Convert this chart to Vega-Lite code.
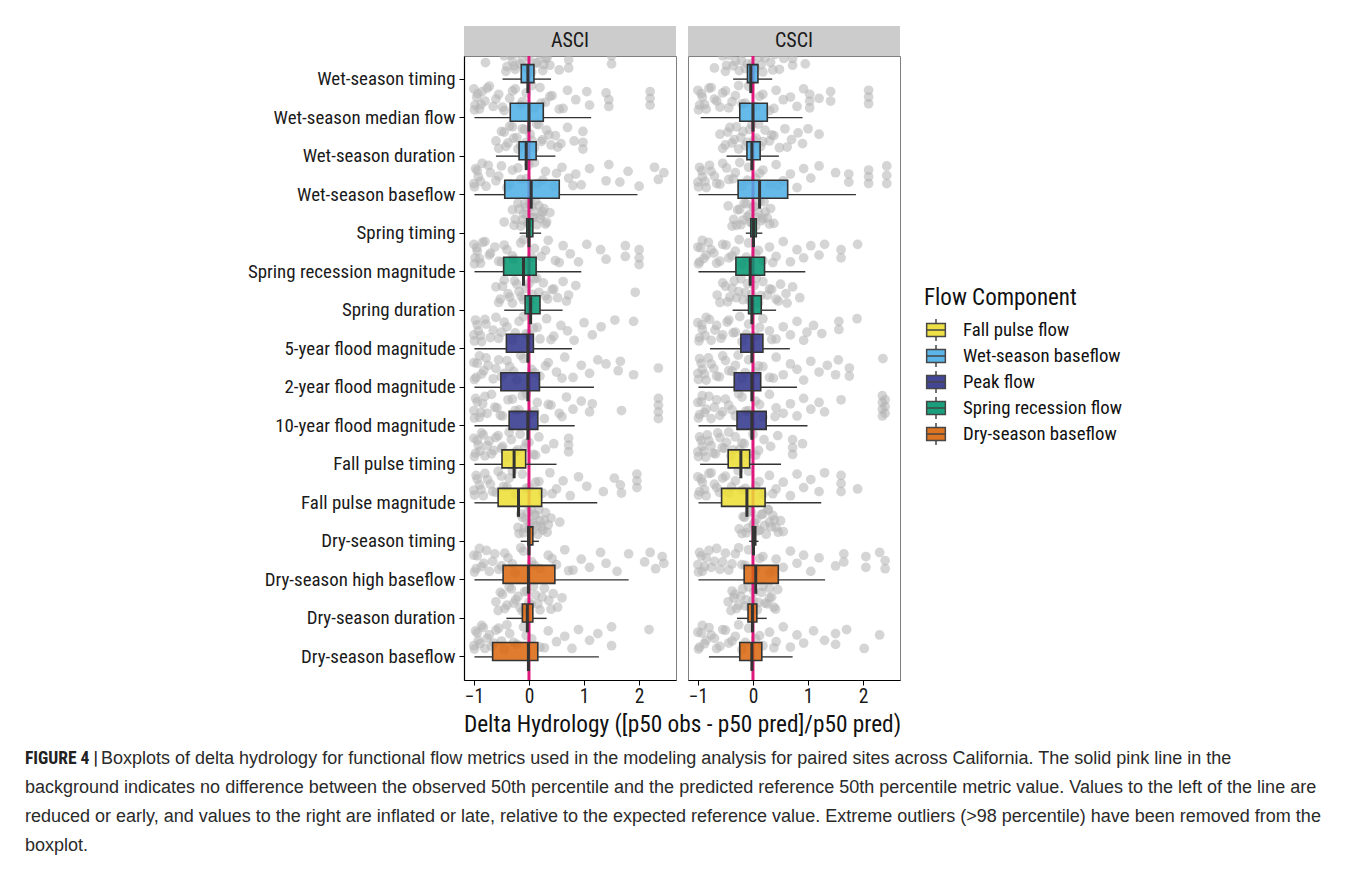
{
  "$schema": "https://vega.github.io/schema/vega-lite/v6.json",
  "padding": {"left": 25, "top": 25, "right": 5, "bottom": 0},
  "background": "white",
  "config": {
    "font": "Roboto Condensed, Roboto, sans-serif",
    "view": {"stroke": null},
    "concat": {"spacing": 8}
  },
  "datasets": {
    "metrics": [
      {"k": 1, "metric": "Wet-season timing", "comp": "Wet-season baseflow"},
      {"k": 2, "metric": "Wet-season median flow", "comp": "Wet-season baseflow"},
      {"k": 3, "metric": "Wet-season duration", "comp": "Wet-season baseflow"},
      {"k": 4, "metric": "Wet-season baseflow", "comp": "Wet-season baseflow"},
      {"k": 5, "metric": "Spring timing", "comp": "Spring recession flow"},
      {"k": 6, "metric": "Spring recession magnitude", "comp": "Spring recession flow"},
      {"k": 7, "metric": "Spring duration", "comp": "Spring recession flow"},
      {"k": 8, "metric": "5-year flood magnitude", "comp": "Peak flow"},
      {"k": 9, "metric": "2-year flood magnitude", "comp": "Peak flow"},
      {"k": 10, "metric": "10-year flood magnitude", "comp": "Peak flow"},
      {"k": 11, "metric": "Fall pulse timing", "comp": "Fall pulse flow"},
      {"k": 12, "metric": "Fall pulse magnitude", "comp": "Fall pulse flow"},
      {"k": 13, "metric": "Dry-season timing", "comp": "Dry-season baseflow"},
      {"k": 14, "metric": "Dry-season high baseflow", "comp": "Dry-season baseflow"},
      {"k": 15, "metric": "Dry-season duration", "comp": "Dry-season baseflow"},
      {"k": 16, "metric": "Dry-season baseflow", "comp": "Dry-season baseflow"}
    ],
    "caption": [
      {"line": 1, "part": "label", "text": "FIGURE 4 |"},
      {"line": 1, "part": "body", "text": "Boxplots of delta hydrology for functional flow metrics used in the modeling analysis for paired sites across California. The solid pink line in the"},
      {"line": 2, "part": "body", "text": "background indicates no difference between the observed 50th percentile and the predicted reference 50th percentile metric value. Values to the left of the line are"},
      {"line": 3, "part": "body", "text": "reduced or early, and values to the right are inflated or late, relative to the expected reference value. Extreme outliers (>98 percentile) have been removed from the"},
      {"line": 4, "part": "body", "text": "boxplot."}
    ],
    "rows": [
      {"p":"ASCI","k":1,"lo":-0.48,"q1":-0.14,"med":-0.02,"q3":0.09,"hi":0.40},
      {"p":"ASCI","k":2,"lo":-0.99,"q1":-0.34,"med":0.0,"q3":0.26,"hi":1.13},
      {"p":"ASCI","k":3,"lo":-0.60,"q1":-0.18,"med":-0.05,"q3":0.13,"hi":0.48},
      {"p":"ASCI","k":4,"lo":-0.99,"q1":-0.44,"med":0.04,"q3":0.55,"hi":1.97},
      {"p":"ASCI","k":5,"lo":-0.17,"q1":-0.04,"med":0.0,"q3":0.07,"hi":0.22},
      {"p":"ASCI","k":6,"lo":-0.99,"q1":-0.46,"med":-0.10,"q3":0.13,"hi":0.95},
      {"p":"ASCI","k":7,"lo":-0.45,"q1":-0.07,"med":0.03,"q3":0.20,"hi":0.61},
      {"p":"ASCI","k":8,"lo":-0.99,"q1":-0.41,"med":-0.02,"q3":0.08,"hi":0.78},
      {"p":"ASCI","k":9,"lo":-0.99,"q1":-0.51,"med":-0.02,"q3":0.19,"hi":1.18},
      {"p":"ASCI","k":10,"lo":-0.99,"q1":-0.36,"med":-0.02,"q3":0.16,"hi":0.83},
      {"p":"ASCI","k":11,"lo":-0.99,"q1":-0.49,"med":-0.27,"q3":-0.06,"hi":0.50},
      {"p":"ASCI","k":12,"lo":-0.99,"q1":-0.56,"med":-0.19,"q3":0.23,"hi":1.24},
      {"p":"ASCI","k":13,"lo":-0.15,"q1":-0.02,"med":0.0,"q3":0.07,"hi":0.18},
      {"p":"ASCI","k":14,"lo":-0.99,"q1":-0.47,"med":-0.01,"q3":0.47,"hi":1.81},
      {"p":"ASCI","k":15,"lo":-0.41,"q1":-0.12,"med":-0.03,"q3":0.07,"hi":0.32},
      {"p":"ASCI","k":16,"lo":-0.99,"q1":-0.66,"med":-0.01,"q3":0.16,"hi":1.27},
      {"p":"CSCI","k":1,"lo":-0.36,"q1":-0.10,"med":-0.04,"q3":0.09,"hi":0.35},
      {"p":"CSCI","k":2,"lo":-0.95,"q1":-0.24,"med":0.0,"q3":0.26,"hi":0.90},
      {"p":"CSCI","k":3,"lo":-0.48,"q1":-0.11,"med":-0.02,"q3":0.13,"hi":0.47},
      {"p":"CSCI","k":4,"lo":-0.99,"q1":-0.27,"med":0.12,"q3":0.63,"hi":1.87},
      {"p":"CSCI","k":5,"lo":-0.13,"q1":-0.04,"med":0.01,"q3":0.06,"hi":0.17},
      {"p":"CSCI","k":6,"lo":-0.99,"q1":-0.31,"med":-0.05,"q3":0.21,"hi":0.95},
      {"p":"CSCI","k":7,"lo":-0.37,"q1":-0.08,"med":-0.02,"q3":0.15,"hi":0.42},
      {"p":"CSCI","k":8,"lo":-0.78,"q1":-0.22,"med":-0.02,"q3":0.18,"hi":0.67},
      {"p":"CSCI","k":9,"lo":-0.99,"q1":-0.34,"med":-0.02,"q3":0.14,"hi":0.80},
      {"p":"CSCI","k":10,"lo":-0.99,"q1":-0.29,"med":-0.02,"q3":0.24,"hi":0.99},
      {"p":"CSCI","k":11,"lo":-0.96,"q1":-0.45,"med":-0.22,"q3":-0.06,"hi":0.51},
      {"p":"CSCI","k":12,"lo":-0.99,"q1":-0.57,"med":-0.11,"q3":0.22,"hi":1.24},
      {"p":"CSCI","k":13,"lo":-0.07,"q1":-0.01,"med":0.01,"q3":0.05,"hi":0.10},
      {"p":"CSCI","k":14,"lo":-0.99,"q1":-0.16,"med":0.05,"q3":0.46,"hi":1.31},
      {"p":"CSCI","k":15,"lo":-0.29,"q1":-0.09,"med":-0.01,"q3":0.07,"hi":0.25},
      {"p":"CSCI","k":16,"lo":-0.80,"q1":-0.24,"med":-0.02,"q3":0.16,"hi":0.72},

      {"p":"ASCI","k":1,"v":-0.79,"j":0.2},{"p":"ASCI","k":1,"v":-0.45,"j":-0.3},{"p":"ASCI","k":1,"v":-0.4,"j":0.5},{"p":"ASCI","k":1,"v":-0.35,"j":-0.8},{"p":"ASCI","k":1,"v":-0.3,"j":0.1},{"p":"ASCI","k":1,"v":-0.25,"j":0.7},{"p":"ASCI","k":1,"v":-0.2,"j":-0.5},{"p":"ASCI","k":1,"v":-0.15,"j":0.3},{"p":"ASCI","k":1,"v":-0.1,"j":-0.9},{"p":"ASCI","k":1,"v":-0.05,"j":0.6},{"p":"ASCI","k":1,"v":0.0,"j":-0.2},{"p":"ASCI","k":1,"v":0.05,"j":0.9},{"p":"ASCI","k":1,"v":0.1,"j":-0.6},{"p":"ASCI","k":1,"v":0.15,"j":0.2},{"p":"ASCI","k":1,"v":0.2,"j":-0.4},{"p":"ASCI","k":1,"v":0.25,"j":0.8},{"p":"ASCI","k":1,"v":0.3,"j":-0.1},{"p":"ASCI","k":1,"v":0.38,"j":0.4},{"p":"ASCI","k":1,"v":0.45,"j":-0.7},{"p":"ASCI","k":1,"v":0.72,"j":-0.6},{"p":"ASCI","k":1,"v":0.72,"j":0.0},{"p":"ASCI","k":1,"v":0.72,"j":0.6},{"p":"ASCI","k":1,"v":1.5,"j":-0.3},{"p":"ASCI","k":1,"v":1.5,"j":0.3},
      {"p":"ASCI","k":1,"v":-0.42,"j":0.85},{"p":"ASCI","k":1,"v":-0.33,"j":-0.35},{"p":"ASCI","k":1,"v":-0.27,"j":0.45},{"p":"ASCI","k":1,"v":-0.18,"j":-0.75},{"p":"ASCI","k":1,"v":-0.12,"j":0.05},{"p":"ASCI","k":1,"v":-0.02,"j":0.65},{"p":"ASCI","k":1,"v":0.07,"j":-0.55},{"p":"ASCI","k":1,"v":0.12,"j":0.25},{"p":"ASCI","k":1,"v":0.18,"j":-0.95},{"p":"ASCI","k":1,"v":0.27,"j":0.35},{"p":"ASCI","k":1,"v":0.33,"j":-0.15},{"p":"ASCI","k":1,"v":0.55,"j":0.75},
      {"p":"ASCI","k":2,"v":-1.0,"j":-0.7},{"p":"ASCI","k":2,"v":-0.98,"j":0.5},{"p":"ASCI","k":2,"v":-0.95,"j":-0.1},{"p":"ASCI","k":2,"v":-0.9,"j":0.8},{"p":"ASCI","k":2,"v":-0.85,"j":-0.5},{"p":"ASCI","k":2,"v":-0.8,"j":0.2},{"p":"ASCI","k":2,"v":-0.72,"j":-0.9},{"p":"ASCI","k":2,"v":-0.65,"j":0.6},{"p":"ASCI","k":2,"v":-0.55,"j":-0.3},{"p":"ASCI","k":2,"v":-0.45,"j":0.9},{"p":"ASCI","k":2,"v":-0.35,"j":0.0},{"p":"ASCI","k":2,"v":-0.25,"j":-0.7},{"p":"ASCI","k":2,"v":-0.15,"j":0.5},{"p":"ASCI","k":2,"v":-0.05,"j":-0.4},{"p":"ASCI","k":2,"v":0.1,"j":0.7},{"p":"ASCI","k":2,"v":0.2,"j":-0.8},{"p":"ASCI","k":2,"v":0.3,"j":0.3},{"p":"ASCI","k":2,"v":0.42,"j":-0.2},{"p":"ASCI","k":2,"v":0.55,"j":0.8},{"p":"ASCI","k":2,"v":0.7,"j":-0.6},{"p":"ASCI","k":2,"v":0.85,"j":0.1},{"p":"ASCI","k":2,"v":1.05,"j":-0.5},{"p":"ASCI","k":2,"v":1.1,"j":0.5},{"p":"ASCI","k":2,"v":1.4,"j":-0.4},{"p":"ASCI","k":2,"v":1.45,"j":0.1},{"p":"ASCI","k":2,"v":1.45,"j":0.6},{"p":"ASCI","k":2,"v":2.2,"j":-0.5},{"p":"ASCI","k":2,"v":2.2,"j":0.0},{"p":"ASCI","k":2,"v":2.2,"j":0.5},
      {"p":"ASCI","k":2,"v":-0.99,"j":0.85},{"p":"ASCI","k":2,"v":-0.93,"j":-0.35},{"p":"ASCI","k":2,"v":-0.87,"j":0.45},{"p":"ASCI","k":2,"v":-0.76,"j":-0.75},{"p":"ASCI","k":2,"v":-0.6,"j":0.05},{"p":"ASCI","k":2,"v":-0.48,"j":0.65},{"p":"ASCI","k":2,"v":-0.3,"j":-0.55},{"p":"ASCI","k":2,"v":-0.12,"j":0.25},{"p":"ASCI","k":2,"v":0.05,"j":-0.95},{"p":"ASCI","k":2,"v":0.22,"j":0.35},{"p":"ASCI","k":2,"v":0.38,"j":-0.15},{"p":"ASCI","k":2,"v":0.62,"j":0.75},
      {"p":"ASCI","k":3,"v":-0.6,"j":0.3},{"p":"ASCI","k":3,"v":-0.5,"j":-0.4},{"p":"ASCI","k":3,"v":-0.42,"j":0.7},{"p":"ASCI","k":3,"v":-0.35,"j":-0.8},{"p":"ASCI","k":3,"v":-0.28,"j":0.1},{"p":"ASCI","k":3,"v":-0.2,"j":0.9},{"p":"ASCI","k":3,"v":-0.12,"j":-0.6},{"p":"ASCI","k":3,"v":-0.05,"j":0.4},{"p":"ASCI","k":3,"v":0.02,"j":-0.2},{"p":"ASCI","k":3,"v":0.1,"j":0.8},{"p":"ASCI","k":3,"v":0.18,"j":-0.9},{"p":"ASCI","k":3,"v":0.25,"j":0.2},{"p":"ASCI","k":3,"v":0.32,"j":-0.5},{"p":"ASCI","k":3,"v":0.4,"j":0.6},{"p":"ASCI","k":3,"v":0.48,"j":-0.1},{"p":"ASCI","k":3,"v":0.58,"j":0.5},{"p":"ASCI","k":3,"v":0.7,"j":-0.7},{"p":"ASCI","k":3,"v":0.82,"j":0.3},{"p":"ASCI","k":3,"v":0.98,"j":-0.4},{"p":"ASCI","k":3,"v":0.98,"j":0.4},{"p":"ASCI","k":3,"v":0.98,"j":0.9},
      {"p":"ASCI","k":3,"v":-0.55,"j":0.85},{"p":"ASCI","k":3,"v":-0.45,"j":-0.35},{"p":"ASCI","k":3,"v":-0.38,"j":0.45},{"p":"ASCI","k":3,"v":-0.3,"j":-0.75},{"p":"ASCI","k":3,"v":-0.22,"j":0.05},{"p":"ASCI","k":3,"v":-0.15,"j":0.65},{"p":"ASCI","k":3,"v":-0.08,"j":-0.55},{"p":"ASCI","k":3,"v":0.05,"j":0.25},{"p":"ASCI","k":3,"v":0.14,"j":-0.95},{"p":"ASCI","k":3,"v":0.22,"j":0.35},{"p":"ASCI","k":3,"v":0.36,"j":-0.15},{"p":"ASCI","k":3,"v":0.52,"j":0.75},
      {"p":"ASCI","k":4,"v":-1.0,"j":0.6},{"p":"ASCI","k":4,"v":-0.97,"j":-0.5},{"p":"ASCI","k":4,"v":-0.92,"j":0.1},{"p":"ASCI","k":4,"v":-0.85,"j":-0.9},{"p":"ASCI","k":4,"v":-0.78,"j":0.8},{"p":"ASCI","k":4,"v":-0.7,"j":-0.2},{"p":"ASCI","k":4,"v":-0.6,"j":0.4},{"p":"ASCI","k":4,"v":-0.5,"j":-0.7},{"p":"ASCI","k":4,"v":-0.4,"j":0.9},{"p":"ASCI","k":4,"v":-0.3,"j":-0.4},{"p":"ASCI","k":4,"v":-0.15,"j":0.3},{"p":"ASCI","k":4,"v":0.0,"j":-0.8},{"p":"ASCI","k":4,"v":0.15,"j":0.6},{"p":"ASCI","k":4,"v":0.3,"j":-0.3},{"p":"ASCI","k":4,"v":0.45,"j":0.8},{"p":"ASCI","k":4,"v":0.6,"j":-0.6},{"p":"ASCI","k":4,"v":0.72,"j":0.2},{"p":"ASCI","k":4,"v":0.85,"j":-0.1},{"p":"ASCI","k":4,"v":0.95,"j":0.7},{"p":"ASCI","k":4,"v":1.1,"j":-0.5},{"p":"ASCI","k":4,"v":1.4,"j":0.4},{"p":"ASCI","k":4,"v":1.45,"j":-0.8},{"p":"ASCI","k":4,"v":1.65,"j":0.5},{"p":"ASCI","k":4,"v":1.8,"j":-0.3},{"p":"ASCI","k":4,"v":2.0,"j":0.8},{"p":"ASCI","k":4,"v":2.28,"j":-0.6},{"p":"ASCI","k":4,"v":2.35,"j":0.3},{"p":"ASCI","k":4,"v":2.45,"j":-0.2},
      {"p":"ASCI","k":4,"v":-0.99,"j":0.85},{"p":"ASCI","k":4,"v":-0.94,"j":-0.35},{"p":"ASCI","k":4,"v":-0.88,"j":0.45},{"p":"ASCI","k":4,"v":-0.74,"j":-0.75},{"p":"ASCI","k":4,"v":-0.55,"j":0.05},{"p":"ASCI","k":4,"v":-0.35,"j":0.65},{"p":"ASCI","k":4,"v":-0.2,"j":-0.55},{"p":"ASCI","k":4,"v":-0.05,"j":0.25},{"p":"ASCI","k":4,"v":0.1,"j":-0.95},{"p":"ASCI","k":4,"v":0.25,"j":0.35},{"p":"ASCI","k":4,"v":0.5,"j":-0.15},{"p":"ASCI","k":4,"v":0.8,"j":0.75},
      {"p":"ASCI","k":5,"v":-0.45,"j":0.6},{"p":"ASCI","k":5,"v":-0.3,"j":-0.3},{"p":"ASCI","k":5,"v":-0.25,"j":0.4},{"p":"ASCI","k":5,"v":-0.2,"j":-0.8},{"p":"ASCI","k":5,"v":-0.15,"j":0.9},{"p":"ASCI","k":5,"v":-0.1,"j":0.0},{"p":"ASCI","k":5,"v":-0.06,"j":-0.5},{"p":"ASCI","k":5,"v":-0.02,"j":0.7},{"p":"ASCI","k":5,"v":0.02,"j":-0.9},{"p":"ASCI","k":5,"v":0.06,"j":0.3},{"p":"ASCI","k":5,"v":0.1,"j":-0.2},{"p":"ASCI","k":5,"v":0.14,"j":0.8},{"p":"ASCI","k":5,"v":0.18,"j":-0.6},{"p":"ASCI","k":5,"v":0.22,"j":0.1},{"p":"ASCI","k":5,"v":0.27,"j":-0.4},{"p":"ASCI","k":5,"v":0.32,"j":0.6},{"p":"ASCI","k":5,"v":0.38,"j":-0.1},
      {"p":"ASCI","k":5,"v":-0.27,"j":0.85},{"p":"ASCI","k":5,"v":-0.18,"j":-0.35},{"p":"ASCI","k":5,"v":-0.12,"j":0.45},{"p":"ASCI","k":5,"v":-0.08,"j":-0.75},{"p":"ASCI","k":5,"v":-0.04,"j":0.05},{"p":"ASCI","k":5,"v":0.0,"j":0.65},{"p":"ASCI","k":5,"v":0.04,"j":-0.55},{"p":"ASCI","k":5,"v":0.08,"j":0.25},{"p":"ASCI","k":5,"v":0.12,"j":-0.95},{"p":"ASCI","k":5,"v":0.2,"j":0.35},{"p":"ASCI","k":5,"v":0.25,"j":-0.15},{"p":"ASCI","k":5,"v":0.3,"j":0.75},
      {"p":"ASCI","k":6,"v":-1.0,"j":-0.6},{"p":"ASCI","k":6,"v":-0.98,"j":0.4},{"p":"ASCI","k":6,"v":-0.94,"j":-0.1},{"p":"ASCI","k":6,"v":-0.88,"j":0.8},{"p":"ASCI","k":6,"v":-0.8,"j":-0.8},{"p":"ASCI","k":6,"v":-0.72,"j":0.2},{"p":"ASCI","k":6,"v":-0.62,"j":-0.4},{"p":"ASCI","k":6,"v":-0.5,"j":0.7},{"p":"ASCI","k":6,"v":-0.4,"j":-0.2},{"p":"ASCI","k":6,"v":-0.28,"j":0.5},{"p":"ASCI","k":6,"v":-0.15,"j":-0.7},{"p":"ASCI","k":6,"v":-0.05,"j":0.9},{"p":"ASCI","k":6,"v":0.1,"j":-0.3},{"p":"ASCI","k":6,"v":0.22,"j":0.3},{"p":"ASCI","k":6,"v":0.35,"j":-0.9},{"p":"ASCI","k":6,"v":0.48,"j":0.6},{"p":"ASCI","k":6,"v":0.62,"j":-0.5},{"p":"ASCI","k":6,"v":0.75,"j":0.1},{"p":"ASCI","k":6,"v":0.9,"j":0.7},{"p":"ASCI","k":6,"v":1.05,"j":-0.6},{"p":"ASCI","k":6,"v":1.3,"j":-0.2},{"p":"ASCI","k":6,"v":1.4,"j":0.5},{"p":"ASCI","k":6,"v":1.75,"j":-0.5},{"p":"ASCI","k":6,"v":1.75,"j":0.3},{"p":"ASCI","k":6,"v":2.0,"j":-0.2},{"p":"ASCI","k":6,"v":2.0,"j":0.4},{"p":"ASCI","k":6,"v":2.0,"j":0.9},
      {"p":"ASCI","k":6,"v":-0.99,"j":0.85},{"p":"ASCI","k":6,"v":-0.95,"j":-0.35},{"p":"ASCI","k":6,"v":-0.9,"j":0.45},{"p":"ASCI","k":6,"v":-0.84,"j":-0.75},{"p":"ASCI","k":6,"v":-0.7,"j":0.05},{"p":"ASCI","k":6,"v":-0.55,"j":0.65},{"p":"ASCI","k":6,"v":-0.45,"j":-0.55},{"p":"ASCI","k":6,"v":-0.3,"j":0.25},{"p":"ASCI","k":6,"v":-0.1,"j":-0.95},{"p":"ASCI","k":6,"v":0.05,"j":0.35},{"p":"ASCI","k":6,"v":0.3,"j":-0.15},{"p":"ASCI","k":6,"v":0.55,"j":0.75},
      {"p":"ASCI","k":7,"v":-0.6,"j":-0.3},{"p":"ASCI","k":7,"v":-0.52,"j":0.6},{"p":"ASCI","k":7,"v":-0.45,"j":-0.8},{"p":"ASCI","k":7,"v":-0.38,"j":0.2},{"p":"ASCI","k":7,"v":-0.3,"j":0.9},{"p":"ASCI","k":7,"v":-0.22,"j":-0.5},{"p":"ASCI","k":7,"v":-0.14,"j":0.4},{"p":"ASCI","k":7,"v":-0.06,"j":-0.2},{"p":"ASCI","k":7,"v":0.02,"j":0.8},{"p":"ASCI","k":7,"v":0.1,"j":-0.9},{"p":"ASCI","k":7,"v":0.18,"j":0.1},{"p":"ASCI","k":7,"v":0.26,"j":-0.6},{"p":"ASCI","k":7,"v":0.34,"j":0.6},{"p":"ASCI","k":7,"v":0.42,"j":-0.1},{"p":"ASCI","k":7,"v":0.52,"j":0.5},{"p":"ASCI","k":7,"v":0.62,"j":-0.7},{"p":"ASCI","k":7,"v":0.72,"j":0.3},{"p":"ASCI","k":7,"v":0.85,"j":-0.4},{"p":"ASCI","k":7,"v":1.93,"j":0.1},
      {"p":"ASCI","k":7,"v":-0.55,"j":0.85},{"p":"ASCI","k":7,"v":-0.48,"j":-0.35},{"p":"ASCI","k":7,"v":-0.35,"j":0.45},{"p":"ASCI","k":7,"v":-0.26,"j":-0.75},{"p":"ASCI","k":7,"v":-0.18,"j":0.05},{"p":"ASCI","k":7,"v":-0.1,"j":0.65},{"p":"ASCI","k":7,"v":0.0,"j":-0.55},{"p":"ASCI","k":7,"v":0.06,"j":0.25},{"p":"ASCI","k":7,"v":0.14,"j":-0.95},{"p":"ASCI","k":7,"v":0.3,"j":0.35},{"p":"ASCI","k":7,"v":0.45,"j":-0.15},{"p":"ASCI","k":7,"v":0.68,"j":0.75},
      {"p":"ASCI","k":8,"v":-1.0,"j":0.4},{"p":"ASCI","k":8,"v":-0.97,"j":-0.7},{"p":"ASCI","k":8,"v":-0.92,"j":0.1},{"p":"ASCI","k":8,"v":-0.86,"j":0.9},{"p":"ASCI","k":8,"v":-0.78,"j":-0.4},{"p":"ASCI","k":8,"v":-0.7,"j":0.6},{"p":"ASCI","k":8,"v":-0.6,"j":-0.9},{"p":"ASCI","k":8,"v":-0.5,"j":0.2},{"p":"ASCI","k":8,"v":-0.4,"j":-0.2},{"p":"ASCI","k":8,"v":-0.3,"j":0.8},{"p":"ASCI","k":8,"v":-0.18,"j":-0.6},{"p":"ASCI","k":8,"v":-0.05,"j":0.3},{"p":"ASCI","k":8,"v":0.08,"j":-0.1},{"p":"ASCI","k":8,"v":0.2,"j":0.7},{"p":"ASCI","k":8,"v":0.32,"j":-0.8},{"p":"ASCI","k":8,"v":0.45,"j":0.5},{"p":"ASCI","k":8,"v":0.58,"j":-0.3},{"p":"ASCI","k":8,"v":0.7,"j":0.1},{"p":"ASCI","k":8,"v":0.82,"j":0.8},{"p":"ASCI","k":8,"v":1.0,"j":-0.5},{"p":"ASCI","k":8,"v":1.15,"j":0.4},{"p":"ASCI","k":8,"v":1.31,"j":-0.2},{"p":"ASCI","k":8,"v":1.56,"j":-0.7},{"p":"ASCI","k":8,"v":1.9,"j":-0.6},
      {"p":"ASCI","k":8,"v":-0.99,"j":0.85},{"p":"ASCI","k":8,"v":-0.94,"j":-0.35},{"p":"ASCI","k":8,"v":-0.88,"j":0.45},{"p":"ASCI","k":8,"v":-0.8,"j":-0.75},{"p":"ASCI","k":8,"v":-0.65,"j":0.05},{"p":"ASCI","k":8,"v":-0.55,"j":0.65},{"p":"ASCI","k":8,"v":-0.45,"j":-0.55},{"p":"ASCI","k":8,"v":-0.25,"j":0.25},{"p":"ASCI","k":8,"v":-0.1,"j":-0.95},{"p":"ASCI","k":8,"v":0.0,"j":0.35},{"p":"ASCI","k":8,"v":0.15,"j":-0.15},{"p":"ASCI","k":8,"v":0.4,"j":0.75},
      {"p":"ASCI","k":9,"v":-1.0,"j":-0.4},{"p":"ASCI","k":9,"v":-0.96,"j":0.7},{"p":"ASCI","k":9,"v":-0.9,"j":-0.9},{"p":"ASCI","k":9,"v":-0.82,"j":0.2},{"p":"ASCI","k":9,"v":-0.74,"j":-0.2},{"p":"ASCI","k":9,"v":-0.65,"j":0.8},{"p":"ASCI","k":9,"v":-0.55,"j":-0.6},{"p":"ASCI","k":9,"v":-0.45,"j":0.4},{"p":"ASCI","k":9,"v":-0.35,"j":-0.1},{"p":"ASCI","k":9,"v":-0.22,"j":0.9},{"p":"ASCI","k":9,"v":-0.1,"j":-0.7},{"p":"ASCI","k":9,"v":0.05,"j":0.1},{"p":"ASCI","k":9,"v":0.2,"j":0.6},{"p":"ASCI","k":9,"v":0.35,"j":-0.4},{"p":"ASCI","k":9,"v":0.5,"j":0.3},{"p":"ASCI","k":9,"v":0.65,"j":-0.8},{"p":"ASCI","k":9,"v":0.8,"j":0.7},{"p":"ASCI","k":9,"v":0.95,"j":-0.2},{"p":"ASCI","k":9,"v":1.1,"j":0.4},{"p":"ASCI","k":9,"v":1.25,"j":-0.6},{"p":"ASCI","k":9,"v":1.4,"j":-0.3},{"p":"ASCI","k":9,"v":1.62,"j":0.2},{"p":"ASCI","k":9,"v":1.66,"j":-0.5},{"p":"ASCI","k":9,"v":1.9,"j":0.5},{"p":"ASCI","k":9,"v":2.35,"j":0.0},
      {"p":"ASCI","k":9,"v":-0.99,"j":0.85},{"p":"ASCI","k":9,"v":-0.94,"j":-0.35},{"p":"ASCI","k":9,"v":-0.86,"j":0.45},{"p":"ASCI","k":9,"v":-0.78,"j":-0.75},{"p":"ASCI","k":9,"v":-0.6,"j":0.05},{"p":"ASCI","k":9,"v":-0.5,"j":0.65},{"p":"ASCI","k":9,"v":-0.4,"j":-0.55},{"p":"ASCI","k":9,"v":-0.28,"j":0.25},{"p":"ASCI","k":9,"v":-0.15,"j":-0.95},{"p":"ASCI","k":9,"v":0.1,"j":0.35},{"p":"ASCI","k":9,"v":0.3,"j":-0.15},{"p":"ASCI","k":9,"v":0.6,"j":0.75},
      {"p":"ASCI","k":10,"v":-1.0,"j":0.3},{"p":"ASCI","k":10,"v":-0.97,"j":-0.6},{"p":"ASCI","k":10,"v":-0.9,"j":0.8},{"p":"ASCI","k":10,"v":-0.84,"j":-0.2},{"p":"ASCI","k":10,"v":-0.76,"j":0.5},{"p":"ASCI","k":10,"v":-0.68,"j":-0.9},{"p":"ASCI","k":10,"v":-0.58,"j":0.1},{"p":"ASCI","k":10,"v":-0.48,"j":0.7},{"p":"ASCI","k":10,"v":-0.38,"j":-0.5},{"p":"ASCI","k":10,"v":-0.25,"j":0.3},{"p":"ASCI","k":10,"v":-0.12,"j":-0.8},{"p":"ASCI","k":10,"v":0.02,"j":0.6},{"p":"ASCI","k":10,"v":0.15,"j":-0.3},{"p":"ASCI","k":10,"v":0.28,"j":0.9},{"p":"ASCI","k":10,"v":0.4,"j":-0.1},{"p":"ASCI","k":10,"v":0.55,"j":0.5},{"p":"ASCI","k":10,"v":0.68,"j":-0.7},{"p":"ASCI","k":10,"v":0.8,"j":0.2},{"p":"ASCI","k":10,"v":0.95,"j":-0.4},{"p":"ASCI","k":10,"v":1.1,"j":0.4},{"p":"ASCI","k":10,"v":1.15,"j":-0.2},{"p":"ASCI","k":10,"v":1.68,"j":0.3},{"p":"ASCI","k":10,"v":2.35,"j":-0.6},{"p":"ASCI","k":10,"v":2.35,"j":-0.1},{"p":"ASCI","k":10,"v":2.35,"j":0.4},{"p":"ASCI","k":10,"v":2.35,"j":0.9},
      {"p":"ASCI","k":10,"v":-0.99,"j":0.85},{"p":"ASCI","k":10,"v":-0.94,"j":-0.35},{"p":"ASCI","k":10,"v":-0.87,"j":0.45},{"p":"ASCI","k":10,"v":-0.8,"j":-0.75},{"p":"ASCI","k":10,"v":-0.62,"j":0.05},{"p":"ASCI","k":10,"v":-0.52,"j":0.65},{"p":"ASCI","k":10,"v":-0.3,"j":-0.55},{"p":"ASCI","k":10,"v":-0.18,"j":0.25},{"p":"ASCI","k":10,"v":-0.05,"j":-0.95},{"p":"ASCI","k":10,"v":0.1,"j":0.35},{"p":"ASCI","k":10,"v":0.35,"j":-0.15},{"p":"ASCI","k":10,"v":0.6,"j":0.75},
      {"p":"ASCI","k":11,"v":-1.0,"j":-0.5},{"p":"ASCI","k":11,"v":-0.97,"j":0.6},{"p":"ASCI","k":11,"v":-0.92,"j":0.0},{"p":"ASCI","k":11,"v":-0.86,"j":-0.9},{"p":"ASCI","k":11,"v":-0.8,"j":0.8},{"p":"ASCI","k":11,"v":-0.72,"j":-0.3},{"p":"ASCI","k":11,"v":-0.64,"j":0.4},{"p":"ASCI","k":11,"v":-0.56,"j":-0.7},{"p":"ASCI","k":11,"v":-0.48,"j":0.1},{"p":"ASCI","k":11,"v":-0.4,"j":0.9},{"p":"ASCI","k":11,"v":-0.32,"j":-0.4},{"p":"ASCI","k":11,"v":-0.24,"j":0.5},{"p":"ASCI","k":11,"v":-0.16,"j":-0.8},{"p":"ASCI","k":11,"v":-0.08,"j":0.2},{"p":"ASCI","k":11,"v":0.0,"j":-0.2},{"p":"ASCI","k":11,"v":0.08,"j":0.7},{"p":"ASCI","k":11,"v":0.18,"j":-0.6},{"p":"ASCI","k":11,"v":0.3,"j":0.3},{"p":"ASCI","k":11,"v":0.45,"j":-0.1},{"p":"ASCI","k":11,"v":0.72,"j":-0.5},{"p":"ASCI","k":11,"v":0.72,"j":0.0},{"p":"ASCI","k":11,"v":0.72,"j":0.5},
      {"p":"ASCI","k":11,"v":-0.99,"j":0.85},{"p":"ASCI","k":11,"v":-0.94,"j":-0.35},{"p":"ASCI","k":11,"v":-0.89,"j":0.45},{"p":"ASCI","k":11,"v":-0.83,"j":-0.75},{"p":"ASCI","k":11,"v":-0.76,"j":0.05},{"p":"ASCI","k":11,"v":-0.68,"j":0.65},{"p":"ASCI","k":11,"v":-0.6,"j":-0.55},{"p":"ASCI","k":11,"v":-0.5,"j":0.25},{"p":"ASCI","k":11,"v":-0.36,"j":-0.95},{"p":"ASCI","k":11,"v":-0.2,"j":0.35},{"p":"ASCI","k":11,"v":-0.05,"j":-0.15},{"p":"ASCI","k":11,"v":0.12,"j":0.75},
      {"p":"ASCI","k":12,"v":-1.0,"j":0.5},{"p":"ASCI","k":12,"v":-0.96,"j":-0.6},{"p":"ASCI","k":12,"v":-0.9,"j":0.1},{"p":"ASCI","k":12,"v":-0.83,"j":0.9},{"p":"ASCI","k":12,"v":-0.75,"j":-0.3},{"p":"ASCI","k":12,"v":-0.66,"j":0.6},{"p":"ASCI","k":12,"v":-0.56,"j":-0.9},{"p":"ASCI","k":12,"v":-0.46,"j":0.2},{"p":"ASCI","k":12,"v":-0.36,"j":-0.4},{"p":"ASCI","k":12,"v":-0.25,"j":0.8},{"p":"ASCI","k":12,"v":-0.12,"j":-0.7},{"p":"ASCI","k":12,"v":0.0,"j":0.3},{"p":"ASCI","k":12,"v":0.12,"j":-0.1},{"p":"ASCI","k":12,"v":0.25,"j":0.7},{"p":"ASCI","k":12,"v":0.38,"j":-0.8},{"p":"ASCI","k":12,"v":0.5,"j":0.4},{"p":"ASCI","k":12,"v":0.62,"j":-0.2},{"p":"ASCI","k":12,"v":0.75,"j":0.9},{"p":"ASCI","k":12,"v":0.9,"j":-0.5},{"p":"ASCI","k":12,"v":1.05,"j":0.2},{"p":"ASCI","k":12,"v":1.35,"j":0.6},{"p":"ASCI","k":12,"v":1.55,"j":-0.4},{"p":"ASCI","k":12,"v":1.66,"j":0.1},{"p":"ASCI","k":12,"v":1.68,"j":0.7},{"p":"ASCI","k":12,"v":1.96,"j":-0.7},{"p":"ASCI","k":12,"v":1.96,"j":-0.2},{"p":"ASCI","k":12,"v":1.96,"j":0.3},
      {"p":"ASCI","k":12,"v":-0.99,"j":0.85},{"p":"ASCI","k":12,"v":-0.94,"j":-0.35},{"p":"ASCI","k":12,"v":-0.87,"j":0.45},{"p":"ASCI","k":12,"v":-0.8,"j":-0.75},{"p":"ASCI","k":12,"v":-0.7,"j":0.05},{"p":"ASCI","k":12,"v":-0.6,"j":0.65},{"p":"ASCI","k":12,"v":-0.5,"j":-0.55},{"p":"ASCI","k":12,"v":-0.4,"j":0.25},{"p":"ASCI","k":12,"v":-0.3,"j":-0.95},{"p":"ASCI","k":12,"v":-0.05,"j":0.35},{"p":"ASCI","k":12,"v":0.18,"j":-0.15},{"p":"ASCI","k":12,"v":0.42,"j":0.75},
      {"p":"ASCI","k":13,"v":-0.2,"j":0.4},{"p":"ASCI","k":13,"v":-0.15,"j":-0.6},{"p":"ASCI","k":13,"v":-0.1,"j":0.8},{"p":"ASCI","k":13,"v":-0.05,"j":-0.2},{"p":"ASCI","k":13,"v":0.0,"j":0.5},{"p":"ASCI","k":13,"v":0.04,"j":-0.9},{"p":"ASCI","k":13,"v":0.08,"j":0.1},{"p":"ASCI","k":13,"v":0.12,"j":-0.5},{"p":"ASCI","k":13,"v":0.16,"j":0.9},{"p":"ASCI","k":13,"v":0.2,"j":-0.1},{"p":"ASCI","k":13,"v":0.25,"j":0.6},{"p":"ASCI","k":13,"v":0.3,"j":-0.7},{"p":"ASCI","k":13,"v":0.35,"j":0.2},{"p":"ASCI","k":13,"v":0.4,"j":-0.3},{"p":"ASCI","k":13,"v":0.56,"j":0.0},
      {"p":"ASCI","k":13,"v":-0.18,"j":0.85},{"p":"ASCI","k":13,"v":-0.12,"j":-0.35},{"p":"ASCI","k":13,"v":-0.08,"j":0.45},{"p":"ASCI","k":13,"v":-0.02,"j":-0.75},{"p":"ASCI","k":13,"v":0.02,"j":0.05},{"p":"ASCI","k":13,"v":0.06,"j":0.65},{"p":"ASCI","k":13,"v":0.1,"j":-0.55},{"p":"ASCI","k":13,"v":0.14,"j":0.25},{"p":"ASCI","k":13,"v":0.18,"j":-0.95},{"p":"ASCI","k":13,"v":0.22,"j":0.35},{"p":"ASCI","k":13,"v":0.28,"j":-0.15},{"p":"ASCI","k":13,"v":0.33,"j":0.75},
      {"p":"ASCI","k":14,"v":-1.0,"j":-0.4},{"p":"ASCI","k":14,"v":-0.96,"j":0.6},{"p":"ASCI","k":14,"v":-0.9,"j":-0.9},{"p":"ASCI","k":14,"v":-0.82,"j":0.2},{"p":"ASCI","k":14,"v":-0.72,"j":0.8},{"p":"ASCI","k":14,"v":-0.62,"j":-0.5},{"p":"ASCI","k":14,"v":-0.5,"j":0.4},{"p":"ASCI","k":14,"v":-0.38,"j":-0.2},{"p":"ASCI","k":14,"v":-0.25,"j":0.9},{"p":"ASCI","k":14,"v":-0.1,"j":-0.7},{"p":"ASCI","k":14,"v":0.05,"j":0.1},{"p":"ASCI","k":14,"v":0.2,"j":0.6},{"p":"ASCI","k":14,"v":0.35,"j":-0.4},{"p":"ASCI","k":14,"v":0.5,"j":0.3},{"p":"ASCI","k":14,"v":0.65,"j":-0.8},{"p":"ASCI","k":14,"v":0.8,"j":0.7},{"p":"ASCI","k":14,"v":0.95,"j":-0.1},{"p":"ASCI","k":14,"v":1.1,"j":0.5},{"p":"ASCI","k":14,"v":1.3,"j":-0.6},{"p":"ASCI","k":14,"v":1.4,"j":0.2},{"p":"ASCI","k":14,"v":1.6,"j":0.8},{"p":"ASCI","k":14,"v":1.81,"j":-0.5},{"p":"ASCI","k":14,"v":2.1,"j":0.1},{"p":"ASCI","k":14,"v":2.2,"j":-0.6},{"p":"ASCI","k":14,"v":2.3,"j":0.6},{"p":"ASCI","k":14,"v":2.42,"j":-0.3},{"p":"ASCI","k":14,"v":2.45,"j":0.2},
      {"p":"ASCI","k":14,"v":-0.99,"j":0.85},{"p":"ASCI","k":14,"v":-0.94,"j":-0.35},{"p":"ASCI","k":14,"v":-0.86,"j":0.45},{"p":"ASCI","k":14,"v":-0.77,"j":-0.75},{"p":"ASCI","k":14,"v":-0.66,"j":0.05},{"p":"ASCI","k":14,"v":-0.55,"j":0.65},{"p":"ASCI","k":14,"v":-0.44,"j":-0.55},{"p":"ASCI","k":14,"v":-0.3,"j":0.25},{"p":"ASCI","k":14,"v":-0.15,"j":-0.95},{"p":"ASCI","k":14,"v":0.1,"j":0.35},{"p":"ASCI","k":14,"v":0.42,"j":-0.15},{"p":"ASCI","k":14,"v":0.72,"j":0.75},
      {"p":"ASCI","k":15,"v":-0.6,"j":0.2},{"p":"ASCI","k":15,"v":-0.52,"j":-0.5},{"p":"ASCI","k":15,"v":-0.44,"j":0.7},{"p":"ASCI","k":15,"v":-0.36,"j":-0.9},{"p":"ASCI","k":15,"v":-0.28,"j":0.3},{"p":"ASCI","k":15,"v":-0.2,"j":-0.2},{"p":"ASCI","k":15,"v":-0.12,"j":0.9},{"p":"ASCI","k":15,"v":-0.04,"j":-0.6},{"p":"ASCI","k":15,"v":0.04,"j":0.4},{"p":"ASCI","k":15,"v":0.12,"j":-0.3},{"p":"ASCI","k":15,"v":0.2,"j":0.8},{"p":"ASCI","k":15,"v":0.28,"j":-0.8},{"p":"ASCI","k":15,"v":0.36,"j":0.1},{"p":"ASCI","k":15,"v":0.44,"j":-0.4},{"p":"ASCI","k":15,"v":0.52,"j":0.6},{"p":"ASCI","k":15,"v":0.6,"j":-0.1},
      {"p":"ASCI","k":15,"v":-0.56,"j":0.85},{"p":"ASCI","k":15,"v":-0.48,"j":-0.35},{"p":"ASCI","k":15,"v":-0.4,"j":0.45},{"p":"ASCI","k":15,"v":-0.32,"j":-0.75},{"p":"ASCI","k":15,"v":-0.24,"j":0.05},{"p":"ASCI","k":15,"v":-0.16,"j":0.65},{"p":"ASCI","k":15,"v":-0.08,"j":-0.55},{"p":"ASCI","k":15,"v":0.0,"j":0.25},{"p":"ASCI","k":15,"v":0.08,"j":-0.95},{"p":"ASCI","k":15,"v":0.16,"j":0.35},{"p":"ASCI","k":15,"v":0.24,"j":-0.15},{"p":"ASCI","k":15,"v":0.4,"j":0.75},
      {"p":"ASCI","k":16,"v":-1.0,"j":0.6},{"p":"ASCI","k":16,"v":-0.97,"j":-0.5},{"p":"ASCI","k":16,"v":-0.92,"j":0.2},{"p":"ASCI","k":16,"v":-0.86,"j":-0.9},{"p":"ASCI","k":16,"v":-0.8,"j":0.8},{"p":"ASCI","k":16,"v":-0.72,"j":-0.2},{"p":"ASCI","k":16,"v":-0.64,"j":0.4},{"p":"ASCI","k":16,"v":-0.55,"j":-0.7},{"p":"ASCI","k":16,"v":-0.45,"j":0.9},{"p":"ASCI","k":16,"v":-0.35,"j":-0.3},{"p":"ASCI","k":16,"v":-0.22,"j":0.5},{"p":"ASCI","k":16,"v":-0.1,"j":-0.8},{"p":"ASCI","k":16,"v":0.05,"j":0.1},{"p":"ASCI","k":16,"v":0.2,"j":0.7},{"p":"ASCI","k":16,"v":0.35,"j":-0.5},{"p":"ASCI","k":16,"v":0.5,"j":0.3},{"p":"ASCI","k":16,"v":0.65,"j":-0.1},{"p":"ASCI","k":16,"v":0.78,"j":0.8},{"p":"ASCI","k":16,"v":0.9,"j":-0.6},{"p":"ASCI","k":16,"v":1.1,"j":0.2},{"p":"ASCI","k":16,"v":1.25,"j":-0.3},{"p":"ASCI","k":16,"v":1.5,"j":-0.8},{"p":"ASCI","k":16,"v":1.5,"j":0.6},{"p":"ASCI","k":16,"v":2.18,"j":-0.6},
      {"p":"ASCI","k":16,"v":-0.99,"j":0.85},{"p":"ASCI","k":16,"v":-0.94,"j":-0.35},{"p":"ASCI","k":16,"v":-0.89,"j":0.45},{"p":"ASCI","k":16,"v":-0.83,"j":-0.75},{"p":"ASCI","k":16,"v":-0.76,"j":0.05},{"p":"ASCI","k":16,"v":-0.68,"j":0.65},{"p":"ASCI","k":16,"v":-0.6,"j":-0.55},{"p":"ASCI","k":16,"v":-0.5,"j":0.25},{"p":"ASCI","k":16,"v":-0.4,"j":-0.95},{"p":"ASCI","k":16,"v":-0.28,"j":0.35},{"p":"ASCI","k":16,"v":-0.05,"j":-0.15},{"p":"ASCI","k":16,"v":0.28,"j":0.75},

      {"p":"CSCI","k":1,"v":-0.7,"j":0.6},{"p":"CSCI","k":1,"v":-0.55,"j":-0.3},{"p":"CSCI","k":1,"v":-0.48,"j":0.4},{"p":"CSCI","k":1,"v":-0.4,"j":-0.8},{"p":"CSCI","k":1,"v":-0.32,"j":0.1},{"p":"CSCI","k":1,"v":-0.25,"j":0.8},{"p":"CSCI","k":1,"v":-0.18,"j":-0.5},{"p":"CSCI","k":1,"v":-0.1,"j":0.3},{"p":"CSCI","k":1,"v":-0.03,"j":-0.9},{"p":"CSCI","k":1,"v":0.04,"j":0.6},{"p":"CSCI","k":1,"v":0.11,"j":-0.2},{"p":"CSCI","k":1,"v":0.18,"j":0.9},{"p":"CSCI","k":1,"v":0.25,"j":-0.6},{"p":"CSCI","k":1,"v":0.32,"j":0.2},{"p":"CSCI","k":1,"v":0.4,"j":-0.4},{"p":"CSCI","k":1,"v":0.48,"j":0.7},{"p":"CSCI","k":1,"v":0.56,"j":-0.1},{"p":"CSCI","k":1,"v":0.72,"j":-0.6},{"p":"CSCI","k":1,"v":0.72,"j":-0.1},{"p":"CSCI","k":1,"v":0.72,"j":0.4},{"p":"CSCI","k":1,"v":0.95,"j":0.3},
      {"p":"CSCI","k":1,"v":-0.5,"j":0.85},{"p":"CSCI","k":1,"v":-0.44,"j":-0.35},{"p":"CSCI","k":1,"v":-0.36,"j":0.45},{"p":"CSCI","k":1,"v":-0.28,"j":-0.75},{"p":"CSCI","k":1,"v":-0.21,"j":0.05},{"p":"CSCI","k":1,"v":-0.14,"j":0.65},{"p":"CSCI","k":1,"v":-0.07,"j":-0.55},{"p":"CSCI","k":1,"v":0.0,"j":0.25},{"p":"CSCI","k":1,"v":0.08,"j":-0.95},{"p":"CSCI","k":1,"v":0.15,"j":0.35},{"p":"CSCI","k":1,"v":0.22,"j":-0.15},{"p":"CSCI","k":1,"v":0.36,"j":0.75},
      {"p":"CSCI","k":2,"v":-1.0,"j":-0.6},{"p":"CSCI","k":2,"v":-0.97,"j":0.5},{"p":"CSCI","k":2,"v":-0.92,"j":-0.1},{"p":"CSCI","k":2,"v":-0.85,"j":0.8},{"p":"CSCI","k":2,"v":-0.76,"j":-0.8},{"p":"CSCI","k":2,"v":-0.66,"j":0.2},{"p":"CSCI","k":2,"v":-0.55,"j":-0.4},{"p":"CSCI","k":2,"v":-0.44,"j":0.7},{"p":"CSCI","k":2,"v":-0.32,"j":-0.2},{"p":"CSCI","k":2,"v":-0.2,"j":0.4},{"p":"CSCI","k":2,"v":-0.08,"j":-0.9},{"p":"CSCI","k":2,"v":0.05,"j":0.6},{"p":"CSCI","k":2,"v":0.18,"j":-0.3},{"p":"CSCI","k":2,"v":0.3,"j":0.9},{"p":"CSCI","k":2,"v":0.42,"j":-0.6},{"p":"CSCI","k":2,"v":0.55,"j":0.1},{"p":"CSCI","k":2,"v":0.68,"j":-0.1},{"p":"CSCI","k":2,"v":0.8,"j":0.6},{"p":"CSCI","k":2,"v":0.92,"j":-0.7},{"p":"CSCI","k":2,"v":1.03,"j":-0.3},{"p":"CSCI","k":2,"v":1.03,"j":0.2},{"p":"CSCI","k":2,"v":1.03,"j":0.7},{"p":"CSCI","k":2,"v":1.2,"j":0.0},{"p":"CSCI","k":2,"v":1.41,"j":-0.5},{"p":"CSCI","k":2,"v":1.41,"j":0.2},{"p":"CSCI","k":2,"v":2.1,"j":-0.6},{"p":"CSCI","k":2,"v":2.1,"j":-0.1},{"p":"CSCI","k":2,"v":2.1,"j":0.4},
      {"p":"CSCI","k":2,"v":-0.99,"j":0.85},{"p":"CSCI","k":2,"v":-0.94,"j":-0.35},{"p":"CSCI","k":2,"v":-0.88,"j":0.45},{"p":"CSCI","k":2,"v":-0.8,"j":-0.75},{"p":"CSCI","k":2,"v":-0.7,"j":0.05},{"p":"CSCI","k":2,"v":-0.6,"j":0.65},{"p":"CSCI","k":2,"v":-0.5,"j":-0.55},{"p":"CSCI","k":2,"v":-0.38,"j":0.25},{"p":"CSCI","k":2,"v":-0.26,"j":-0.95},{"p":"CSCI","k":2,"v":-0.14,"j":0.35},{"p":"CSCI","k":2,"v":0.12,"j":-0.15},{"p":"CSCI","k":2,"v":0.38,"j":0.75},
      {"p":"CSCI","k":3,"v":-0.6,"j":-0.2},{"p":"CSCI","k":3,"v":-0.5,"j":0.6},{"p":"CSCI","k":3,"v":-0.42,"j":-0.7},{"p":"CSCI","k":3,"v":-0.34,"j":0.2},{"p":"CSCI","k":3,"v":-0.26,"j":0.9},{"p":"CSCI","k":3,"v":-0.18,"j":-0.4},{"p":"CSCI","k":3,"v":-0.1,"j":0.4},{"p":"CSCI","k":3,"v":-0.02,"j":-0.9},{"p":"CSCI","k":3,"v":0.06,"j":0.1},{"p":"CSCI","k":3,"v":0.14,"j":0.7},{"p":"CSCI","k":3,"v":0.22,"j":-0.5},{"p":"CSCI","k":3,"v":0.3,"j":0.3},{"p":"CSCI","k":3,"v":0.38,"j":-0.1},{"p":"CSCI","k":3,"v":0.48,"j":0.8},{"p":"CSCI","k":3,"v":0.58,"j":-0.6},{"p":"CSCI","k":3,"v":0.7,"j":0.2},{"p":"CSCI","k":3,"v":0.82,"j":-0.3},{"p":"CSCI","k":3,"v":0.9,"j":0.5},{"p":"CSCI","k":3,"v":1.0,"j":-0.6},{"p":"CSCI","k":3,"v":1.2,"j":-0.2},
      {"p":"CSCI","k":3,"v":-0.55,"j":0.85},{"p":"CSCI","k":3,"v":-0.46,"j":-0.35},{"p":"CSCI","k":3,"v":-0.38,"j":0.45},{"p":"CSCI","k":3,"v":-0.3,"j":-0.75},{"p":"CSCI","k":3,"v":-0.22,"j":0.05},{"p":"CSCI","k":3,"v":-0.14,"j":0.65},{"p":"CSCI","k":3,"v":-0.06,"j":-0.55},{"p":"CSCI","k":3,"v":0.02,"j":0.25},{"p":"CSCI","k":3,"v":0.1,"j":-0.95},{"p":"CSCI","k":3,"v":0.18,"j":0.35},{"p":"CSCI","k":3,"v":0.34,"j":-0.15},{"p":"CSCI","k":3,"v":0.62,"j":0.75},
      {"p":"CSCI","k":4,"v":-1.0,"j":0.5},{"p":"CSCI","k":4,"v":-0.97,"j":-0.6},{"p":"CSCI","k":4,"v":-0.92,"j":0.1},{"p":"CSCI","k":4,"v":-0.85,"j":0.9},{"p":"CSCI","k":4,"v":-0.76,"j":-0.3},{"p":"CSCI","k":4,"v":-0.66,"j":0.6},{"p":"CSCI","k":4,"v":-0.55,"j":-0.9},{"p":"CSCI","k":4,"v":-0.44,"j":0.3},{"p":"CSCI","k":4,"v":-0.32,"j":-0.2},{"p":"CSCI","k":4,"v":-0.2,"j":0.8},{"p":"CSCI","k":4,"v":-0.08,"j":-0.6},{"p":"CSCI","k":4,"v":0.05,"j":0.2},{"p":"CSCI","k":4,"v":0.18,"j":-0.4},{"p":"CSCI","k":4,"v":0.3,"j":0.7},{"p":"CSCI","k":4,"v":0.42,"j":-0.8},{"p":"CSCI","k":4,"v":0.55,"j":0.4},{"p":"CSCI","k":4,"v":0.68,"j":-0.1},{"p":"CSCI","k":4,"v":0.8,"j":0.9},{"p":"CSCI","k":4,"v":0.92,"j":-0.5},{"p":"CSCI","k":4,"v":1.05,"j":0.2},{"p":"CSCI","k":4,"v":1.2,"j":-0.7},{"p":"CSCI","k":4,"v":1.5,"j":-0.2},{"p":"CSCI","k":4,"v":1.74,"j":-0.1},{"p":"CSCI","k":4,"v":1.74,"j":0.5},{"p":"CSCI","k":4,"v":2.1,"j":-0.4},{"p":"CSCI","k":4,"v":2.1,"j":0.1},{"p":"CSCI","k":4,"v":2.1,"j":0.6},{"p":"CSCI","k":4,"v":2.43,"j":-0.7},{"p":"CSCI","k":4,"v":2.43,"j":0.0},{"p":"CSCI","k":4,"v":2.43,"j":0.6},
      {"p":"CSCI","k":4,"v":-0.99,"j":0.85},{"p":"CSCI","k":4,"v":-0.93,"j":-0.35},{"p":"CSCI","k":4,"v":-0.87,"j":0.45},{"p":"CSCI","k":4,"v":-0.79,"j":-0.75},{"p":"CSCI","k":4,"v":-0.7,"j":0.05},{"p":"CSCI","k":4,"v":-0.6,"j":0.65},{"p":"CSCI","k":4,"v":-0.48,"j":-0.55},{"p":"CSCI","k":4,"v":-0.36,"j":0.25},{"p":"CSCI","k":4,"v":-0.24,"j":-0.95},{"p":"CSCI","k":4,"v":-0.1,"j":0.35},{"p":"CSCI","k":4,"v":0.12,"j":-0.15},{"p":"CSCI","k":4,"v":0.45,"j":0.75},
      {"p":"CSCI","k":5,"v":-0.45,"j":-0.6},{"p":"CSCI","k":5,"v":-0.35,"j":0.4},{"p":"CSCI","k":5,"v":-0.28,"j":-0.3},{"p":"CSCI","k":5,"v":-0.22,"j":0.8},{"p":"CSCI","k":5,"v":-0.16,"j":-0.8},{"p":"CSCI","k":5,"v":-0.1,"j":0.2},{"p":"CSCI","k":5,"v":-0.05,"j":0.6},{"p":"CSCI","k":5,"v":0.0,"j":-0.5},{"p":"CSCI","k":5,"v":0.05,"j":0.9},{"p":"CSCI","k":5,"v":0.1,"j":-0.1},{"p":"CSCI","k":5,"v":0.15,"j":0.5},{"p":"CSCI","k":5,"v":0.2,"j":-0.9},{"p":"CSCI","k":5,"v":0.26,"j":0.3},{"p":"CSCI","k":5,"v":0.32,"j":-0.4},{"p":"CSCI","k":5,"v":0.38,"j":0.7},{"p":"CSCI","k":5,"v":-0.38,"j":0.9},
      {"p":"CSCI","k":5,"v":-0.3,"j":0.85},{"p":"CSCI","k":5,"v":-0.24,"j":-0.35},{"p":"CSCI","k":5,"v":-0.18,"j":0.45},{"p":"CSCI","k":5,"v":-0.12,"j":-0.75},{"p":"CSCI","k":5,"v":-0.07,"j":0.05},{"p":"CSCI","k":5,"v":-0.02,"j":0.65},{"p":"CSCI","k":5,"v":0.02,"j":-0.55},{"p":"CSCI","k":5,"v":0.07,"j":0.25},{"p":"CSCI","k":5,"v":0.12,"j":-0.95},{"p":"CSCI","k":5,"v":0.18,"j":0.35},{"p":"CSCI","k":5,"v":0.22,"j":-0.15},{"p":"CSCI","k":5,"v":0.3,"j":0.75},
      {"p":"CSCI","k":6,"v":-1.0,"j":-0.4},{"p":"CSCI","k":6,"v":-0.97,"j":0.7},{"p":"CSCI","k":6,"v":-0.92,"j":-0.9},{"p":"CSCI","k":6,"v":-0.85,"j":0.2},{"p":"CSCI","k":6,"v":-0.76,"j":-0.2},{"p":"CSCI","k":6,"v":-0.66,"j":0.8},{"p":"CSCI","k":6,"v":-0.55,"j":-0.6},{"p":"CSCI","k":6,"v":-0.44,"j":0.4},{"p":"CSCI","k":6,"v":-0.32,"j":-0.1},{"p":"CSCI","k":6,"v":-0.2,"j":0.9},{"p":"CSCI","k":6,"v":-0.08,"j":-0.7},{"p":"CSCI","k":6,"v":0.05,"j":0.1},{"p":"CSCI","k":6,"v":0.18,"j":0.6},{"p":"CSCI","k":6,"v":0.3,"j":-0.4},{"p":"CSCI","k":6,"v":0.42,"j":0.3},{"p":"CSCI","k":6,"v":0.55,"j":-0.8},{"p":"CSCI","k":6,"v":0.68,"j":0.7},{"p":"CSCI","k":6,"v":0.8,"j":-0.2},{"p":"CSCI","k":6,"v":0.92,"j":0.4},{"p":"CSCI","k":6,"v":1.05,"j":-0.5},{"p":"CSCI","k":6,"v":1.2,"j":0.2},{"p":"CSCI","k":6,"v":1.3,"j":-0.6},{"p":"CSCI","k":6,"v":1.6,"j":-0.2},{"p":"CSCI","k":6,"v":1.6,"j":0.4},{"p":"CSCI","k":6,"v":1.9,"j":-0.6},
      {"p":"CSCI","k":6,"v":-0.99,"j":0.85},{"p":"CSCI","k":6,"v":-0.95,"j":-0.35},{"p":"CSCI","k":6,"v":-0.89,"j":0.45},{"p":"CSCI","k":6,"v":-0.81,"j":-0.75},{"p":"CSCI","k":6,"v":-0.71,"j":0.05},{"p":"CSCI","k":6,"v":-0.6,"j":0.65},{"p":"CSCI","k":6,"v":-0.49,"j":-0.55},{"p":"CSCI","k":6,"v":-0.38,"j":0.25},{"p":"CSCI","k":6,"v":-0.25,"j":-0.95},{"p":"CSCI","k":6,"v":-0.12,"j":0.35},{"p":"CSCI","k":6,"v":0.1,"j":-0.15},{"p":"CSCI","k":6,"v":0.36,"j":0.75},
      {"p":"CSCI","k":7,"v":-0.65,"j":0.3},{"p":"CSCI","k":7,"v":-0.55,"j":-0.6},{"p":"CSCI","k":7,"v":-0.46,"j":0.8},{"p":"CSCI","k":7,"v":-0.38,"j":-0.2},{"p":"CSCI","k":7,"v":-0.3,"j":0.5},{"p":"CSCI","k":7,"v":-0.22,"j":-0.9},{"p":"CSCI","k":7,"v":-0.14,"j":0.1},{"p":"CSCI","k":7,"v":-0.06,"j":0.7},{"p":"CSCI","k":7,"v":0.02,"j":-0.4},{"p":"CSCI","k":7,"v":0.1,"j":0.9},{"p":"CSCI","k":7,"v":0.18,"j":-0.7},{"p":"CSCI","k":7,"v":0.26,"j":0.3},{"p":"CSCI","k":7,"v":0.34,"j":-0.1},{"p":"CSCI","k":7,"v":0.42,"j":0.6},{"p":"CSCI","k":7,"v":0.5,"j":-0.5},{"p":"CSCI","k":7,"v":0.6,"j":0.2},{"p":"CSCI","k":7,"v":0.72,"j":-0.3},{"p":"CSCI","k":7,"v":0.85,"j":0.5},{"p":"CSCI","k":7,"v":0.62,"j":0.9},
      {"p":"CSCI","k":7,"v":-0.6,"j":0.85},{"p":"CSCI","k":7,"v":-0.5,"j":-0.35},{"p":"CSCI","k":7,"v":-0.42,"j":0.45},{"p":"CSCI","k":7,"v":-0.34,"j":-0.75},{"p":"CSCI","k":7,"v":-0.26,"j":0.05},{"p":"CSCI","k":7,"v":-0.18,"j":0.65},{"p":"CSCI","k":7,"v":-0.1,"j":-0.55},{"p":"CSCI","k":7,"v":-0.02,"j":0.25},{"p":"CSCI","k":7,"v":0.06,"j":-0.95},{"p":"CSCI","k":7,"v":0.14,"j":0.35},{"p":"CSCI","k":7,"v":0.3,"j":-0.15},{"p":"CSCI","k":7,"v":0.46,"j":0.75},
      {"p":"CSCI","k":8,"v":-1.0,"j":-0.5},{"p":"CSCI","k":8,"v":-0.97,"j":0.6},{"p":"CSCI","k":8,"v":-0.92,"j":0.0},{"p":"CSCI","k":8,"v":-0.85,"j":-0.9},{"p":"CSCI","k":8,"v":-0.76,"j":0.8},{"p":"CSCI","k":8,"v":-0.66,"j":-0.3},{"p":"CSCI","k":8,"v":-0.55,"j":0.4},{"p":"CSCI","k":8,"v":-0.44,"j":-0.7},{"p":"CSCI","k":8,"v":-0.32,"j":0.2},{"p":"CSCI","k":8,"v":-0.2,"j":0.9},{"p":"CSCI","k":8,"v":-0.08,"j":-0.4},{"p":"CSCI","k":8,"v":0.05,"j":0.5},{"p":"CSCI","k":8,"v":0.18,"j":-0.8},{"p":"CSCI","k":8,"v":0.3,"j":0.1},{"p":"CSCI","k":8,"v":0.42,"j":0.7},{"p":"CSCI","k":8,"v":0.55,"j":-0.2},{"p":"CSCI","k":8,"v":0.68,"j":0.4},{"p":"CSCI","k":8,"v":0.8,"j":-0.6},{"p":"CSCI","k":8,"v":0.92,"j":0.8},{"p":"CSCI","k":8,"v":1.1,"j":-0.3},{"p":"CSCI","k":8,"v":1.25,"j":0.3},{"p":"CSCI","k":8,"v":1.56,"j":-0.6},{"p":"CSCI","k":8,"v":1.56,"j":0.0},{"p":"CSCI","k":8,"v":1.89,"j":-0.8},{"p":"CSCI","k":8,"v":0.98,"j":0.2},
      {"p":"CSCI","k":8,"v":-0.98,"j":0.85},{"p":"CSCI","k":8,"v":-0.93,"j":-0.35},{"p":"CSCI","k":8,"v":-0.87,"j":0.45},{"p":"CSCI","k":8,"v":-0.79,"j":-0.75},{"p":"CSCI","k":8,"v":-0.69,"j":0.05},{"p":"CSCI","k":8,"v":-0.58,"j":0.65},{"p":"CSCI","k":8,"v":-0.47,"j":-0.55},{"p":"CSCI","k":8,"v":-0.36,"j":0.25},{"p":"CSCI","k":8,"v":-0.24,"j":-0.95},{"p":"CSCI","k":8,"v":-0.12,"j":0.35},{"p":"CSCI","k":8,"v":0.12,"j":-0.15},{"p":"CSCI","k":8,"v":0.34,"j":0.75},
      {"p":"CSCI","k":9,"v":-1.0,"j":0.4},{"p":"CSCI","k":9,"v":-0.97,"j":-0.7},{"p":"CSCI","k":9,"v":-0.92,"j":0.1},{"p":"CSCI","k":9,"v":-0.85,"j":0.9},{"p":"CSCI","k":9,"v":-0.76,"j":-0.3},{"p":"CSCI","k":9,"v":-0.66,"j":0.6},{"p":"CSCI","k":9,"v":-0.55,"j":-0.9},{"p":"CSCI","k":9,"v":-0.44,"j":0.2},{"p":"CSCI","k":9,"v":-0.32,"j":-0.2},{"p":"CSCI","k":9,"v":-0.2,"j":0.8},{"p":"CSCI","k":9,"v":-0.08,"j":-0.6},{"p":"CSCI","k":9,"v":0.05,"j":0.3},{"p":"CSCI","k":9,"v":0.18,"j":-0.1},{"p":"CSCI","k":9,"v":0.3,"j":0.7},{"p":"CSCI","k":9,"v":0.42,"j":-0.8},{"p":"CSCI","k":9,"v":0.55,"j":0.5},{"p":"CSCI","k":9,"v":0.68,"j":-0.3},{"p":"CSCI","k":9,"v":0.8,"j":0.1},{"p":"CSCI","k":9,"v":0.92,"j":0.9},{"p":"CSCI","k":9,"v":1.05,"j":-0.5},{"p":"CSCI","k":9,"v":1.2,"j":0.3},{"p":"CSCI","k":9,"v":1.35,"j":-0.2},{"p":"CSCI","k":9,"v":1.5,"j":0.5},{"p":"CSCI","k":9,"v":1.55,"j":-0.6},{"p":"CSCI","k":9,"v":1.75,"j":0.0},{"p":"CSCI","k":9,"v":1.75,"j":0.6},{"p":"CSCI","k":9,"v":2.36,"j":-0.7},
      {"p":"CSCI","k":9,"v":-0.99,"j":0.85},{"p":"CSCI","k":9,"v":-0.94,"j":-0.35},{"p":"CSCI","k":9,"v":-0.88,"j":0.45},{"p":"CSCI","k":9,"v":-0.81,"j":-0.75},{"p":"CSCI","k":9,"v":-0.71,"j":0.05},{"p":"CSCI","k":9,"v":-0.61,"j":0.65},{"p":"CSCI","k":9,"v":-0.5,"j":-0.55},{"p":"CSCI","k":9,"v":-0.38,"j":0.25},{"p":"CSCI","k":9,"v":-0.27,"j":-0.95},{"p":"CSCI","k":9,"v":-0.14,"j":0.35},{"p":"CSCI","k":9,"v":0.1,"j":-0.15},{"p":"CSCI","k":9,"v":0.37,"j":0.75},
      {"p":"CSCI","k":10,"v":-1.0,"j":-0.3},{"p":"CSCI","k":10,"v":-0.97,"j":0.6},{"p":"CSCI","k":10,"v":-0.92,"j":-0.8},{"p":"CSCI","k":10,"v":-0.85,"j":0.2},{"p":"CSCI","k":10,"v":-0.76,"j":0.9},{"p":"CSCI","k":10,"v":-0.66,"j":-0.5},{"p":"CSCI","k":10,"v":-0.55,"j":0.4},{"p":"CSCI","k":10,"v":-0.44,"j":-0.1},{"p":"CSCI","k":10,"v":-0.32,"j":0.7},{"p":"CSCI","k":10,"v":-0.2,"j":-0.7},{"p":"CSCI","k":10,"v":-0.08,"j":0.3},{"p":"CSCI","k":10,"v":0.05,"j":-0.4},{"p":"CSCI","k":10,"v":0.18,"j":0.8},{"p":"CSCI","k":10,"v":0.3,"j":-0.9},{"p":"CSCI","k":10,"v":0.42,"j":0.1},{"p":"CSCI","k":10,"v":0.55,"j":0.5},{"p":"CSCI","k":10,"v":0.68,"j":-0.2},{"p":"CSCI","k":10,"v":0.8,"j":0.7},{"p":"CSCI","k":10,"v":0.92,"j":-0.6},{"p":"CSCI","k":10,"v":1.05,"j":0.2},{"p":"CSCI","k":10,"v":1.2,"j":-0.3},{"p":"CSCI","k":10,"v":1.3,"j":0.4},{"p":"CSCI","k":10,"v":1.6,"j":-0.5},{"p":"CSCI","k":10,"v":2.35,"j":-0.8},{"p":"CSCI","k":10,"v":2.35,"j":-0.3},{"p":"CSCI","k":10,"v":2.35,"j":0.2},{"p":"CSCI","k":10,"v":2.35,"j":0.7},{"p":"CSCI","k":10,"v":2.4,"j":-0.5},{"p":"CSCI","k":10,"v":2.4,"j":0.0},{"p":"CSCI","k":10,"v":2.4,"j":0.5},
      {"p":"CSCI","k":10,"v":-0.99,"j":0.85},{"p":"CSCI","k":10,"v":-0.94,"j":-0.35},{"p":"CSCI","k":10,"v":-0.88,"j":0.45},{"p":"CSCI","k":10,"v":-0.8,"j":-0.75},{"p":"CSCI","k":10,"v":-0.7,"j":0.05},{"p":"CSCI","k":10,"v":-0.6,"j":0.65},{"p":"CSCI","k":10,"v":-0.5,"j":-0.55},{"p":"CSCI","k":10,"v":-0.38,"j":0.25},{"p":"CSCI","k":10,"v":-0.26,"j":-0.95},{"p":"CSCI","k":10,"v":-0.13,"j":0.35},{"p":"CSCI","k":10,"v":0.12,"j":-0.15},{"p":"CSCI","k":10,"v":0.4,"j":0.75},
      {"p":"CSCI","k":11,"v":-1.0,"j":0.5},{"p":"CSCI","k":11,"v":-0.97,"j":-0.6},{"p":"CSCI","k":11,"v":-0.92,"j":0.1},{"p":"CSCI","k":11,"v":-0.86,"j":0.9},{"p":"CSCI","k":11,"v":-0.8,"j":-0.3},{"p":"CSCI","k":11,"v":-0.72,"j":0.6},{"p":"CSCI","k":11,"v":-0.64,"j":-0.9},{"p":"CSCI","k":11,"v":-0.56,"j":0.2},{"p":"CSCI","k":11,"v":-0.48,"j":-0.2},{"p":"CSCI","k":11,"v":-0.4,"j":0.8},{"p":"CSCI","k":11,"v":-0.32,"j":-0.6},{"p":"CSCI","k":11,"v":-0.24,"j":0.3},{"p":"CSCI","k":11,"v":-0.16,"j":-0.1},{"p":"CSCI","k":11,"v":-0.08,"j":0.7},{"p":"CSCI","k":11,"v":0.0,"j":-0.8},{"p":"CSCI","k":11,"v":0.1,"j":0.4},{"p":"CSCI","k":11,"v":0.2,"j":-0.4},{"p":"CSCI","k":11,"v":0.32,"j":0.1},{"p":"CSCI","k":11,"v":0.45,"j":-0.7},{"p":"CSCI","k":11,"v":0.72,"j":-0.4},{"p":"CSCI","k":11,"v":0.72,"j":0.2},{"p":"CSCI","k":11,"v":0.72,"j":0.7},{"p":"CSCI","k":11,"v":0.9,"j":-0.1},
      {"p":"CSCI","k":11,"v":-0.99,"j":0.85},{"p":"CSCI","k":11,"v":-0.94,"j":-0.35},{"p":"CSCI","k":11,"v":-0.89,"j":0.45},{"p":"CSCI","k":11,"v":-0.83,"j":-0.75},{"p":"CSCI","k":11,"v":-0.76,"j":0.05},{"p":"CSCI","k":11,"v":-0.68,"j":0.65},{"p":"CSCI","k":11,"v":-0.6,"j":-0.55},{"p":"CSCI","k":11,"v":-0.52,"j":0.25},{"p":"CSCI","k":11,"v":-0.44,"j":-0.95},{"p":"CSCI","k":11,"v":-0.36,"j":0.35},{"p":"CSCI","k":11,"v":-0.2,"j":-0.15},{"p":"CSCI","k":11,"v":0.05,"j":0.75},
      {"p":"CSCI","k":12,"v":-1.0,"j":-0.5},{"p":"CSCI","k":12,"v":-0.97,"j":0.6},{"p":"CSCI","k":12,"v":-0.92,"j":-0.1},{"p":"CSCI","k":12,"v":-0.85,"j":0.9},{"p":"CSCI","k":12,"v":-0.76,"j":-0.8},{"p":"CSCI","k":12,"v":-0.66,"j":0.3},{"p":"CSCI","k":12,"v":-0.55,"j":-0.4},{"p":"CSCI","k":12,"v":-0.44,"j":0.7},{"p":"CSCI","k":12,"v":-0.32,"j":-0.2},{"p":"CSCI","k":12,"v":-0.2,"j":0.5},{"p":"CSCI","k":12,"v":-0.08,"j":-0.9},{"p":"CSCI","k":12,"v":0.05,"j":0.2},{"p":"CSCI","k":12,"v":0.18,"j":0.8},{"p":"CSCI","k":12,"v":0.3,"j":-0.6},{"p":"CSCI","k":12,"v":0.42,"j":0.4},{"p":"CSCI","k":12,"v":0.55,"j":-0.1},{"p":"CSCI","k":12,"v":0.68,"j":0.9},{"p":"CSCI","k":12,"v":0.8,"j":-0.7},{"p":"CSCI","k":12,"v":0.92,"j":0.3},{"p":"CSCI","k":12,"v":1.05,"j":-0.3},{"p":"CSCI","k":12,"v":1.2,"j":0.6},{"p":"CSCI","k":12,"v":1.3,"j":-0.8},{"p":"CSCI","k":12,"v":1.6,"j":-0.6},{"p":"CSCI","k":12,"v":1.6,"j":0.0},{"p":"CSCI","k":12,"v":1.6,"j":0.6},{"p":"CSCI","k":12,"v":1.9,"j":0.4},
      {"p":"CSCI","k":12,"v":-0.99,"j":0.85},{"p":"CSCI","k":12,"v":-0.94,"j":-0.35},{"p":"CSCI","k":12,"v":-0.88,"j":0.45},{"p":"CSCI","k":12,"v":-0.8,"j":-0.75},{"p":"CSCI","k":12,"v":-0.7,"j":0.05},{"p":"CSCI","k":12,"v":-0.61,"j":0.65},{"p":"CSCI","k":12,"v":-0.5,"j":-0.55},{"p":"CSCI","k":12,"v":-0.39,"j":0.25},{"p":"CSCI","k":12,"v":-0.27,"j":-0.95},{"p":"CSCI","k":12,"v":-0.14,"j":0.35},{"p":"CSCI","k":12,"v":0.11,"j":-0.15},{"p":"CSCI","k":12,"v":0.36,"j":0.75},
      {"p":"CSCI","k":13,"v":-0.25,"j":0.5},{"p":"CSCI","k":13,"v":-0.18,"j":-0.4},{"p":"CSCI","k":13,"v":-0.12,"j":0.8},{"p":"CSCI","k":13,"v":-0.06,"j":-0.8},{"p":"CSCI","k":13,"v":0.0,"j":0.2},{"p":"CSCI","k":13,"v":0.06,"j":-0.2},{"p":"CSCI","k":13,"v":0.12,"j":0.6},{"p":"CSCI","k":13,"v":0.18,"j":-0.6},{"p":"CSCI","k":13,"v":0.24,"j":0.9},{"p":"CSCI","k":13,"v":0.3,"j":0.0},{"p":"CSCI","k":13,"v":0.36,"j":-0.5},{"p":"CSCI","k":13,"v":0.42,"j":0.4},{"p":"CSCI","k":13,"v":0.5,"j":-0.1},{"p":"CSCI","k":13,"v":0.55,"j":0.7},{"p":"CSCI","k":13,"v":0.28,"j":-0.9},
      {"p":"CSCI","k":13,"v":-0.2,"j":0.85},{"p":"CSCI","k":13,"v":-0.15,"j":-0.35},{"p":"CSCI","k":13,"v":-0.09,"j":0.45},{"p":"CSCI","k":13,"v":-0.03,"j":-0.75},{"p":"CSCI","k":13,"v":0.03,"j":0.05},{"p":"CSCI","k":13,"v":0.09,"j":0.65},{"p":"CSCI","k":13,"v":0.15,"j":-0.55},{"p":"CSCI","k":13,"v":0.21,"j":0.25},{"p":"CSCI","k":13,"v":0.27,"j":-0.95},{"p":"CSCI","k":13,"v":0.33,"j":0.35},{"p":"CSCI","k":13,"v":0.39,"j":-0.15},{"p":"CSCI","k":13,"v":0.46,"j":0.75},
      {"p":"CSCI","k":14,"v":-1.0,"j":0.3},{"p":"CSCI","k":14,"v":-0.97,"j":-0.6},{"p":"CSCI","k":14,"v":-0.92,"j":0.8},{"p":"CSCI","k":14,"v":-0.85,"j":-0.2},{"p":"CSCI","k":14,"v":-0.76,"j":0.5},{"p":"CSCI","k":14,"v":-0.66,"j":-0.9},{"p":"CSCI","k":14,"v":-0.55,"j":0.1},{"p":"CSCI","k":14,"v":-0.44,"j":0.7},{"p":"CSCI","k":14,"v":-0.32,"j":-0.5},{"p":"CSCI","k":14,"v":-0.2,"j":0.3},{"p":"CSCI","k":14,"v":-0.08,"j":-0.8},{"p":"CSCI","k":14,"v":0.05,"j":0.6},{"p":"CSCI","k":14,"v":0.18,"j":-0.3},{"p":"CSCI","k":14,"v":0.3,"j":0.9},{"p":"CSCI","k":14,"v":0.42,"j":-0.1},{"p":"CSCI","k":14,"v":0.55,"j":0.5},{"p":"CSCI","k":14,"v":0.68,"j":-0.7},{"p":"CSCI","k":14,"v":0.8,"j":0.2},{"p":"CSCI","k":14,"v":0.92,"j":-0.4},{"p":"CSCI","k":14,"v":1.05,"j":0.8},{"p":"CSCI","k":14,"v":1.2,"j":-0.2},{"p":"CSCI","k":14,"v":1.5,"j":0.4},{"p":"CSCI","k":14,"v":1.65,"j":-0.5},{"p":"CSCI","k":14,"v":1.65,"j":0.1},{"p":"CSCI","k":14,"v":2.05,"j":-0.3},{"p":"CSCI","k":14,"v":2.05,"j":0.5},{"p":"CSCI","k":14,"v":2.3,"j":-0.6},{"p":"CSCI","k":14,"v":2.4,"j":0.0},{"p":"CSCI","k":14,"v":2.4,"j":0.6},
      {"p":"CSCI","k":14,"v":-0.99,"j":0.85},{"p":"CSCI","k":14,"v":-0.94,"j":-0.35},{"p":"CSCI","k":14,"v":-0.88,"j":0.45},{"p":"CSCI","k":14,"v":-0.8,"j":-0.75},{"p":"CSCI","k":14,"v":-0.7,"j":0.05},{"p":"CSCI","k":14,"v":-0.6,"j":0.65},{"p":"CSCI","k":14,"v":-0.5,"j":-0.55},{"p":"CSCI","k":14,"v":-0.38,"j":0.25},{"p":"CSCI","k":14,"v":-0.26,"j":-0.95},{"p":"CSCI","k":14,"v":-0.14,"j":0.35},{"p":"CSCI","k":14,"v":0.12,"j":-0.15},{"p":"CSCI","k":14,"v":0.38,"j":0.75},
      {"p":"CSCI","k":15,"v":-0.45,"j":0.2},{"p":"CSCI","k":15,"v":-0.38,"j":-0.6},{"p":"CSCI","k":15,"v":-0.3,"j":0.7},{"p":"CSCI","k":15,"v":-0.22,"j":-0.2},{"p":"CSCI","k":15,"v":-0.15,"j":0.5},{"p":"CSCI","k":15,"v":-0.08,"j":-0.9},{"p":"CSCI","k":15,"v":0.0,"j":0.1},{"p":"CSCI","k":15,"v":0.08,"j":0.8},{"p":"CSCI","k":15,"v":0.15,"j":-0.5},{"p":"CSCI","k":15,"v":0.22,"j":0.3},{"p":"CSCI","k":15,"v":0.3,"j":-0.1},{"p":"CSCI","k":15,"v":0.38,"j":0.6},{"p":"CSCI","k":15,"v":0.45,"j":-0.7},{"p":"CSCI","k":15,"v":-0.35,"j":-0.1},{"p":"CSCI","k":15,"v":0.3,"j":-0.8},
      {"p":"CSCI","k":15,"v":-0.4,"j":0.85},{"p":"CSCI","k":15,"v":-0.33,"j":-0.35},{"p":"CSCI","k":15,"v":-0.26,"j":0.45},{"p":"CSCI","k":15,"v":-0.19,"j":-0.75},{"p":"CSCI","k":15,"v":-0.12,"j":0.05},{"p":"CSCI","k":15,"v":-0.05,"j":0.65},{"p":"CSCI","k":15,"v":0.02,"j":-0.55},{"p":"CSCI","k":15,"v":0.1,"j":0.25},{"p":"CSCI","k":15,"v":0.18,"j":-0.95},{"p":"CSCI","k":15,"v":0.26,"j":0.35},{"p":"CSCI","k":15,"v":0.34,"j":-0.15},{"p":"CSCI","k":15,"v":0.41,"j":0.75},
      {"p":"CSCI","k":16,"v":-1.0,"j":-0.4},{"p":"CSCI","k":16,"v":-0.97,"j":0.7},{"p":"CSCI","k":16,"v":-0.92,"j":-0.9},{"p":"CSCI","k":16,"v":-0.85,"j":0.2},{"p":"CSCI","k":16,"v":-0.76,"j":-0.2},{"p":"CSCI","k":16,"v":-0.66,"j":0.8},{"p":"CSCI","k":16,"v":-0.55,"j":-0.6},{"p":"CSCI","k":16,"v":-0.44,"j":0.4},{"p":"CSCI","k":16,"v":-0.32,"j":-0.1},{"p":"CSCI","k":16,"v":-0.2,"j":0.9},{"p":"CSCI","k":16,"v":-0.08,"j":-0.7},{"p":"CSCI","k":16,"v":0.05,"j":0.1},{"p":"CSCI","k":16,"v":0.18,"j":0.6},{"p":"CSCI","k":16,"v":0.3,"j":-0.4},{"p":"CSCI","k":16,"v":0.42,"j":0.3},{"p":"CSCI","k":16,"v":0.55,"j":-0.8},{"p":"CSCI","k":16,"v":0.68,"j":0.7},{"p":"CSCI","k":16,"v":0.8,"j":-0.2},{"p":"CSCI","k":16,"v":0.92,"j":0.4},{"p":"CSCI","k":16,"v":1.1,"j":-0.5},{"p":"CSCI","k":16,"v":1.3,"j":0.2},{"p":"CSCI","k":16,"v":1.5,"j":-0.3},{"p":"CSCI","k":16,"v":1.5,"j":0.5},{"p":"CSCI","k":16,"v":1.7,"j":-0.6},{"p":"CSCI","k":16,"v":2.02,"j":0.8},{"p":"CSCI","k":16,"v":2.3,"j":-0.2},
      {"p":"CSCI","k":16,"v":-0.99,"j":0.85},{"p":"CSCI","k":16,"v":-0.94,"j":-0.35},{"p":"CSCI","k":16,"v":-0.88,"j":0.45},{"p":"CSCI","k":16,"v":-0.8,"j":-0.75},{"p":"CSCI","k":16,"v":-0.7,"j":0.05},{"p":"CSCI","k":16,"v":-0.6,"j":0.65},{"p":"CSCI","k":16,"v":-0.5,"j":-0.55},{"p":"CSCI","k":16,"v":-0.38,"j":0.25},{"p":"CSCI","k":16,"v":-0.26,"j":-0.95},{"p":"CSCI","k":16,"v":-0.14,"j":0.35},{"p":"CSCI","k":16,"v":0.12,"j":-0.15},{"p":"CSCI","k":16,"v":0.38,"j":0.75}
    ]
  },
  "resolve": {"legend": {"fill": "independent"}},
  "vconcat": [
    {
      "data": {"name": "rows"},
      "spacing": 12,
      "bounds": "flush",
      "hconcat": [
        {
          "width": 427,
          "height": 624,
          "transform": [{"filter": "false"}],
          "mark": {"type": "point", "opacity": 0}
        },
        {
          "width": 212,
          "height": 624,
          "view": {"stroke": "#7f7f7f"},
          "transform": [
            {"filter": "datum.p === 'ASCI'"},
            {"lookup": "k", "from": {"data": {"name": "metrics"}, "key": "k", "fields": ["metric", "comp"]}}
          ],
          "resolve": {"scale": {"y": "independent"}},
          "layer": [
            {
              "encoding": {
                "y": {
                  "field": "metric",
                  "type": "nominal",
                  "sort": ["Wet-season timing", "Wet-season median flow", "Wet-season duration", "Wet-season baseflow", "Spring timing", "Spring recession magnitude", "Spring duration", "5-year flood magnitude", "2-year flood magnitude", "10-year flood magnitude", "Fall pulse timing", "Fall pulse magnitude", "Dry-season timing", "Dry-season high baseflow", "Dry-season duration", "Dry-season baseflow"],
                  "scale": {"paddingInner": 0, "paddingOuter": 0.1},
                  "axis": {"title": null, "labelFontSize": 18.9, "labelLimit": 0, "labelColor": "#1a1a1a", "domainColor": "#000000", "tickColor": "#000000", "tickSize": 5, "labelPadding": 4, "domainWidth": 1.2}
                }
              },
              "layer": [
                {
                  "transform": [{"filter": {"field": "v", "valid": true}}],
                  "mark": {"type": "circle", "size": 95, "color": "#b3b3b3", "opacity": 0.55},
                  "encoding": {
                    "x": {
                      "field": "v",
                      "type": "quantitative",
                      "scale": {"domain": [-1.18, 2.67], "nice": false, "zero": false},
                      "axis": {"title": "Delta Hydrology ([p50 obs - p50 pred]/p50 pred)", "titleX": 218, "titleAlign": "center", "titleFontSize": 23.3, "titleFontWeight": "normal", "titleColor": "#111111", "titlePadding": 8, "values": [-1, 0, 1, 2], "format": "d", "grid": false, "labelFontSize": 19.5, "labelColor": "#1a1a1a", "domainColor": "#000000", "tickColor": "#000000", "tickSize": 5, "labelPadding": 2, "domainWidth": 1.2, "labelFlush": false}
                    },
                    "yOffset": {"field": "j", "type": "quantitative", "scale": {"domain": [-1, 1], "range": [-13.5, 13.5]}}
                  }
                },
                {
                  "transform": [{"filter": "datum.k === 1 && isValid(datum.q1)"}],
                  "mark": {"type": "rule", "color": "#e0187d", "strokeWidth": 3},
                  "encoding": {"x": {"datum": 0}, "y": null}
                },
                {
                  "transform": [{"filter": {"field": "q1", "valid": true}}],
                  "mark": {"type": "rule", "color": "#333333", "strokeWidth": 1.4},
                  "encoding": {"x": {"field": "lo", "type": "quantitative"}, "x2": {"field": "q1"}}
                },
                {
                  "transform": [{"filter": {"field": "q1", "valid": true}}],
                  "mark": {"type": "rule", "color": "#333333", "strokeWidth": 1.4},
                  "encoding": {"x": {"field": "q3", "type": "quantitative"}, "x2": {"field": "hi"}}
                },
                {
                  "transform": [{"filter": {"field": "q1", "valid": true}}],
                  "mark": {"type": "bar", "stroke": "#333333", "strokeWidth": 1.6, "fillOpacity": 0.85, "height": {"band": 0.75}},
                  "encoding": {
                    "x": {"field": "q1", "type": "quantitative"},
                    "x2": {"field": "q3"},
                    "fill": {
                      "field": "comp",
                      "type": "nominal",
                      "scale": {
                        "domain": ["Fall pulse flow", "Wet-season baseflow", "Peak flow", "Spring recession flow", "Dry-season baseflow"],
                        "range": ["#ecde31", "#4aaee6", "#2e3289", "#00966f", "#d9650a"]
                      },
                      "legend": {
                        "title": "Flow Component",
                        "orient": "none",
                        "legendX": 899,
                        "legendY": 231,
                        "titleFontSize": 23,
                        "titleFontWeight": "normal",
                        "titleColor": "#111111",
                        "titlePadding": 8,
                        "labelFontSize": 18.8,
                        "labelLimit": 0,
                        "labelColor": "#111111",
                        "labelOffset": 15,
                        "symbolType": "M-0.85,-0.6H0.85V0.6H-0.85Z M-0.85,0H0.85 M0,-0.6V-1 M0,0.6V1",
                        "symbolSize": 484,
                        "symbolStrokeColor": "#333333",
                        "symbolStrokeWidth": 1.5,
                        "symbolOpacity": 0.9,
                        "rowPadding": -2.5
                      }
                    }
                  }
                },
                {
                  "transform": [{"filter": {"field": "q1", "valid": true}}],
                  "mark": {"type": "tick", "color": "#333333", "opacity": 1, "thickness": 3, "size": 28},
                  "encoding": {"x": {"field": "med", "type": "quantitative"}}
                }
              ]
            },
            {
              "transform": [{"filter": "datum.k === 1 && isValid(datum.q1)"}],
              "encoding": {
                "y": {"datum": 624, "type": "quantitative", "scale": {"domain": [0, 624], "nice": false, "zero": false}, "axis": null}
              },
              "layer": [
                {"mark": {"type": "rect", "fill": "#cccccc"}, "encoding": {"y2": {"datum": 654}}},
                {"mark": {"type": "text", "fontSize": 20, "color": "#1a1a1a", "baseline": "middle", "dy": -15}, "encoding": {"x": {"datum": 0.745}, "text": {"field": "p"}}}
              ]
            }
          ]
        },
        {
          "width": 212,
          "height": 624,
          "view": {"stroke": "#7f7f7f"},
          "transform": [
            {"filter": "datum.p === 'CSCI'"},
            {"lookup": "k", "from": {"data": {"name": "metrics"}, "key": "k", "fields": ["metric", "comp"]}}
          ],
          "resolve": {"scale": {"y": "independent"}},
          "layer": [
            {
              "encoding": {
                "y": {
                  "field": "metric",
                  "type": "nominal",
                  "sort": ["Wet-season timing", "Wet-season median flow", "Wet-season duration", "Wet-season baseflow", "Spring timing", "Spring recession magnitude", "Spring duration", "5-year flood magnitude", "2-year flood magnitude", "10-year flood magnitude", "Fall pulse timing", "Fall pulse magnitude", "Dry-season timing", "Dry-season high baseflow", "Dry-season duration", "Dry-season baseflow"],
                  "scale": {"paddingInner": 0, "paddingOuter": 0.1},
                  "axis": null
                }
              },
              "layer": [
                {
                  "transform": [{"filter": {"field": "v", "valid": true}}],
                  "mark": {"type": "circle", "size": 95, "color": "#b3b3b3", "opacity": 0.55},
                  "encoding": {
                    "x": {
                      "field": "v",
                      "type": "quantitative",
                      "scale": {"domain": [-1.18, 2.67], "nice": false, "zero": false},
                      "axis": {"title": null, "values": [-1, 0, 1, 2], "format": "d", "grid": false, "labelFontSize": 19.5, "labelColor": "#1a1a1a", "domainColor": "#000000", "tickColor": "#000000", "tickSize": 5, "labelPadding": 2, "domainWidth": 1.2, "labelFlush": false}
                    },
                    "yOffset": {"field": "j", "type": "quantitative", "scale": {"domain": [-1, 1], "range": [-13.5, 13.5]}}
                  }
                },
                {
                  "transform": [{"filter": "datum.k === 1 && isValid(datum.q1)"}],
                  "mark": {"type": "rule", "color": "#e0187d", "strokeWidth": 3},
                  "encoding": {"x": {"datum": 0}, "y": null}
                },
                {
                  "transform": [{"filter": {"field": "q1", "valid": true}}],
                  "mark": {"type": "rule", "color": "#333333", "strokeWidth": 1.4},
                  "encoding": {"x": {"field": "lo", "type": "quantitative"}, "x2": {"field": "q1"}}
                },
                {
                  "transform": [{"filter": {"field": "q1", "valid": true}}],
                  "mark": {"type": "rule", "color": "#333333", "strokeWidth": 1.4},
                  "encoding": {"x": {"field": "q3", "type": "quantitative"}, "x2": {"field": "hi"}}
                },
                {
                  "transform": [{"filter": {"field": "q1", "valid": true}}],
                  "mark": {"type": "bar", "stroke": "#333333", "strokeWidth": 1.6, "fillOpacity": 0.85, "height": {"band": 0.75}},
                  "encoding": {
                    "x": {"field": "q1", "type": "quantitative"},
                    "x2": {"field": "q3"},
                    "fill": {"field": "comp", "type": "nominal"}
                  }
                },
                {
                  "transform": [{"filter": {"field": "q1", "valid": true}}],
                  "mark": {"type": "tick", "color": "#333333", "opacity": 1, "thickness": 3, "size": 28},
                  "encoding": {"x": {"field": "med", "type": "quantitative"}}
                }
              ]
            },
            {
              "transform": [{"filter": "datum.k === 1 && isValid(datum.q1)"}],
              "encoding": {
                "y": {"datum": 624, "type": "quantitative", "scale": {"domain": [0, 624], "nice": false, "zero": false}, "axis": null}
              },
              "layer": [
                {"mark": {"type": "rect", "fill": "#cccccc"}, "encoding": {"y2": {"datum": 654}}},
                {"mark": {"type": "text", "fontSize": 20, "color": "#1a1a1a", "baseline": "middle", "dy": -15}, "encoding": {"x": {"datum": 0.745}, "text": {"field": "p"}}}
              ]
            }
          ]
        }
      ]
    },
    {
      "width": 1300,
      "height": 115,
      "data": {"name": "caption"},
      "encoding": {
        "y": {"field": "line", "type": "ordinal", "axis": null}
      },
      "layer": [
        {
          "transform": [{"filter": "datum.part === 'label'"}],
          "mark": {"type": "text", "align": "left", "baseline": "middle", "font": "Roboto Condensed, Liberation Sans", "fontSize": 17.5, "fontWeight": "bold", "color": "#222222", "x": 0},
          "encoding": {"text": {"field": "text"}}
        },
        {
          "transform": [{"filter": "datum.part === 'body' && datum.line === 1"}],
          "mark": {"type": "text", "align": "left", "baseline": "middle", "font": "Liberation Sans", "fontSize": 18, "color": "#2a2a2a", "x": 0, "dx": 76},
          "encoding": {"text": {"field": "text"}}
        },
        {
          "transform": [{"filter": "datum.part === 'body' && datum.line > 1"}],
          "mark": {"type": "text", "align": "left", "baseline": "middle", "font": "Liberation Sans", "fontSize": 18, "color": "#2a2a2a", "x": 0},
          "encoding": {"text": {"field": "text"}}
        }
      ]
    }
  ]
}
